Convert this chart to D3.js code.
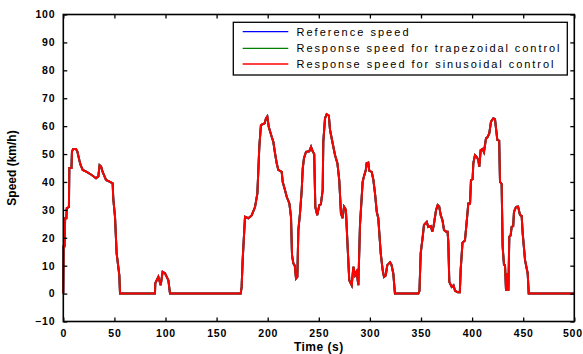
<!DOCTYPE html>
<html>
<head>
<meta charset="utf-8">
<script src="https://cdn.jsdelivr.net/npm/d3@7/dist/d3.min.js"></script>
<style>
  html, body { margin: 0; padding: 0; background: #fff; }
  svg { display: block; }
  text { font-family: "Liberation Sans", Arial, sans-serif; fill: #000; }
</style>
</head>
<body>
<svg id="chart" width="583" height="354"></svg>
<script>
// ---- data ----
const xTicks = [0, 50, 100, 150, 200, 250, 300, 350, 400, 450, 500];
const yTicks = [-10, 0, 10, 20, 30, 40, 50, 60, 70, 80, 90, 100];
const seriesNames = ["Reference speed", "Response speed for trapezoidal control", "Response speed for sinusoidal control"];
const seriesColors = ["#0000ff", "#008000", "#ff0000"];

// [time (s), speed (km/h)]
const referenceSpeed = [
  [0,0],[0.3,17],[1.2,17],[1.8,27],[3,27],[3.4,30.6],[5.5,31],[5.9,45],[8,45],[8.5,51],[9.8,51.8],[12.4,51.8],[13.7,51],[15.7,47.8],[17,46],[19,44.3],[22.9,43.6],[27.8,42.5],[32,41.3],[34.3,42],[35.5,46],[37,45.5],[38.5,43.6],[41.8,40.7],[45.7,40],[48.3,39.5],[48.9,34],[50.6,27.5],[52.2,14.4],[54.8,6.6],[55.5,0],
  [89.7,0],[90,3.7],[93,6],[95.3,3],[97.2,7.8],[99.5,7.3],[101.2,6],[102.8,4.8],[104.4,0],
  [173.6,0],[174.5,2.4],[175.5,12],[177.8,27.5],[181,27],[184.3,28],[187.6,31],[189.9,35.9],[191.8,52.6],[193.4,60.4],[197,61],[198.3,62.8],[199.6,63.5],[201,59.8],[203.9,56.2],[205.5,54.4],[207.2,50.2],[208.8,46.7],[210.4,44.3],[213.7,43.6],[214.7,40],[216.9,37.1],[218.6,34.7],[221.2,32.3],[222.8,27.5],[223.8,13.8],[225.1,10.8],[226.5,10],[227.7,5.4],[229,6],[230,22.8],[231.6,28.7],[233.3,37.1],[234.3,44.9],[235.5,48.5],[237.5,50.8],[240.7,51],[242.4,52.6],[244,51],[245.5,50],[246.6,31],[248.5,28.1],[250.5,31.7],[252,32],[253.8,37.1],[254.4,54.4],[256.1,62.8],[257.7,64.3],[259.8,63.8],[261,58.6],[263.6,53.8],[265.9,49.6],[268.2,46.7],[270,40.7],[271.7,28.7],[273.3,27],[274.7,31.1],[276.5,30],[277.9,19.2],[279.8,4.8],[282.2,3],[283.8,9.6],[285.5,6.6],[287,7.8],[288.7,3],[290.3,24.6],[292.9,40],[294.2,42],[296,44.3],[296.8,46.7],[298.4,46.9],[299.4,44],[301.8,43.6],[303.4,40.7],[305,35.9],[306.7,29.3],[308.2,27],[310.6,14.4],[312.5,8.4],[313.8,6],[315.5,6.5],[317,10.2],[319.7,11.2],[321,10.5],[322.9,7.2],[324.5,0],
  [347.4,0],[348.5,1],[349.7,14.4],[351.7,20.4],[352.9,24.6],[355.6,25.7],[357.1,23.9],[359.5,24.2],[361.1,22.2],[362.5,24.5],[364.7,29.9],[366.3,31.7],[367.8,31.2],[369.3,28.1],[371,26.3],[372.5,22.8],[374.5,22.2],[376,22.2],[376.7,18.6],[377.7,4.2],[380,2.4],[381.8,3],[383.3,1],[386,0.5],[388,0.5],[388.8,8.4],[390.6,18.2],[393,19],[394.7,25.7],[396.3,32.3],[398,32.3],[398.9,40.7],[400.5,41],[401.2,46.7],[402.8,49.6],[404.5,49],[406.1,47.8],[407,45.4],[408.4,51.4],[410.3,51.8],[411.6,50.7],[413.6,55.6],[415,56],[416.8,57.4],[418.5,61.6],[420.8,62.8],[422.4,62.5],[423.4,59.2],[424.7,55],[426.5,54.8],[427.3,40],[428.9,39.3],[429.9,16.8],[431.2,10.2],[432.2,10.2],[433.2,1],[434.5,7.2],[435.5,1],[436.4,20.4],[437.7,20.8],[438.7,23.9],[440.2,24.2],[441,29.3],[443,31.1],[445,31.2],[446.9,28.1],[448.5,27.8],[449.5,21.6],[451.8,12],[454.4,7.2],[455.4,0],[500,0]
];
// the two responses overlap the reference at this scale
const trapezoidalSpeed = referenceSpeed;
const sinusoidalSpeed = referenceSpeed;
const allSeries = [referenceSpeed, trapezoidalSpeed, sinusoidalSpeed];

// ---- layout ----
const svg = d3.select("#chart");
const L = 63.3, R = 574.3, T = 14.5, B = 321.5;
const x = d3.scaleLinear().domain([0, 500]).range([L, R]);
const y = d3.scaleLinear().domain([-10, 100]).range([B, T]);

// series
const line = d3.line().x(d => x(d[0])).y(d => y(d[1]));
allSeries.forEach((s, i) => {
  svg.append("path").datum(s)
    .attr("fill", "none")
    .attr("stroke", seriesColors[i])
    .attr("stroke-width", 2)
    .attr("stroke-linejoin", "miter")
    .attr("d", line);
});

// axes (ticks inward, on all four sides)
const tickStyle = g => {
  g.select(".domain").remove();
  g.selectAll(".tick line").attr("stroke", "#000").attr("stroke-width", 1.3);
  g.selectAll(".tick text")
    .style("font-family", '"Liberation Sans", Arial, sans-serif')
    .style("font-weight", "bold")
    .style("font-size", "10.5px")
    .style("letter-spacing", "0.8px")
    .attr("fill", "#000");
};
const xAxisG = svg.append("g").attr("transform", `translate(0,${B})`)
  .call(d3.axisBottom(x).tickValues(xTicks).tickSizeInner(-4).tickSizeOuter(0).tickPadding(8))
  .call(tickStyle);
// keep the last label inside the window
xAxisG.selectAll(".tick text").filter(d => d === 500).attr("text-anchor", "end").attr("dx", "8px");
svg.append("g").attr("transform", `translate(0,${T})`)
  .call(d3.axisTop(x).tickValues(xTicks).tickSizeInner(-4).tickSizeOuter(0).tickFormat(""))
  .call(tickStyle);
svg.append("g").attr("transform", `translate(${L},0)`)
  .call(d3.axisLeft(y).tickValues(yTicks).tickSizeInner(-4).tickSizeOuter(0).tickPadding(8))
  .call(tickStyle);
svg.append("g").attr("transform", `translate(${R},0)`)
  .call(d3.axisRight(y).tickValues(yTicks).tickSizeInner(-4).tickSizeOuter(0).tickFormat(""))
  .call(tickStyle);

// frame
svg.append("rect").attr("x", L).attr("y", T).attr("width", R - L).attr("height", B - T)
  .attr("fill", "none").attr("stroke", "#000").attr("stroke-width", 1.6);

// axis titles
svg.append("text").attr("x", (L + R) / 2).attr("y", 351)
  .attr("text-anchor", "middle").style("font-weight", "bold").style("font-size", "12px")
  .style("letter-spacing", "0.5px").text("Time (s)");
svg.append("text").attr("transform", `translate(16,${(T + B) / 2}) rotate(-90)`)
  .attr("text-anchor", "middle").style("font-weight", "bold").style("font-size", "12px")
  .text("Speed (km/h)");

// legend
const lg = svg.append("g");
lg.append("rect").attr("x", 233.3).attr("y", 22.3).attr("width", 334).attr("height", 52.7)
  .attr("fill", "#fff").attr("stroke", "#000").attr("stroke-width", 1.3);
const rowY = [31.7, 48.3, 64];
const textLen = [112, 263, 257];
seriesNames.forEach((name, i) => {
  lg.append("line").attr("x1", 242.7).attr("x2", 288.3).attr("y1", rowY[i]).attr("y2", rowY[i])
    .attr("stroke", seriesColors[i]).attr("stroke-width", 1.3);
  lg.append("text").attr("x", 296.5).attr("y", rowY[i] + 4)
    .style("font-size", "11px")
    .attr("textLength", textLen[i]).attr("lengthAdjust", "spacing")
    .text(name);
});
</script>
</body>
</html>
